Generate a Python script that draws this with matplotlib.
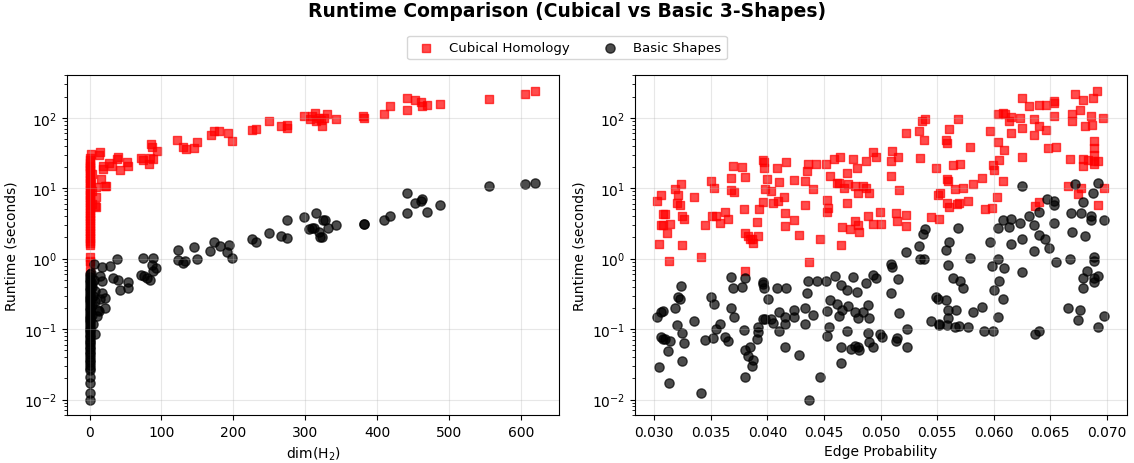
import matplotlib
matplotlib.use("Agg")
import matplotlib.pyplot as plt
import numpy as np

# ── left panel: runtime vs dim(H2) ─────────────────────────────────────────
cub_dim = [0]*39 + [2, 27.6, 16, 23, 9, 9, 9, 21.3, 7.4, 1, 3, 2, 4, 1, 3] + [
    14.4, 13.5, 19, 19, 30.6, 37.6, 40, 43, 51.5, 53.8, 71.5, 74.7, 83, 85.4, 86.3, 93.3,
    88.6, 84, 122, 129.5, 133.6, 145, 149, 168.4, 173, 180.5, 193, 198, 226.5, 231, 249.7,
    266, 275, 275, 298.4,
    307, 309, 313, 315, 318.5, 322, 323, 325.5, 330, 343, 381, 382, 410, 418.5, 441, 442,
    453, 461, 463, 469, 488, 555, 605, 620]
cub_t_dim = [25, 23, 21, 19.5, 18, 16.5, 15, 14, 13, 12, 11, 10, 9.3, 8.6, 8, 7.4, 6.8, 6.3,
             5.8, 5.3, 4.9, 4.5, 4.1, 3.8, 3.5, 3.2, 2.9, 2.7, 2.5, 2.3, 2.1, 1.95, 1.8, 1.65,
             1.55, 1.07, 0.92, 0.91, 0.67] + [
    30.7, 23, 13.5, 10.9, 10.5, 7.5, 5.4, 10.6, 5.6, 20, 16, 12, 9, 27, 6] + [
    33, 30, 21, 18.6, 20.8, 26, 28, 18.2, 23.7, 20.8, 27, 25, 22.4, 42, 38, 34,
    26.4, 26.7, 48, 39, 36, 37.4, 45.6, 57, 65, 65, 60, 47, 67, 70.5, 89,
    77, 78, 71, 107,
    96, 107, 116, 91, 100, 94, 77, 100, 113, 96, 107, 98, 115, 145, 188, 130,
    180, 165, 148, 151, 155, 186, 217, 237]

bas_dim = [0]*43 + [3, 5, 4, 6, 3, 7, 5, 2, 8, 4] + [
    6.5, 16.7, 29, 37.6, 33, 40, 42, 53, 54, 16.7, 14, 17.6, 21, 22, 14.4, 12, 13.5, 9.7, 7.4,
    73.8, 87.7, 86.3, 87.7, 93, 71.5, 75.6, 80, 84, 122.5, 122.5, 129.5, 132.7, 145.7, 149,
    168, 173, 181, 194, 190.7, 198.6, 225.5, 231, 249.7, 266, 275, 274, 298,
    305.6, 309, 311.6, 315, 318.5, 321, 322.7, 324.5, 327, 331, 343, 382, 382, 410, 418.5,
    441, 442, 453, 461, 463, 469, 488, 555, 605, 620]
bas_t_dim = [0.6, 0.55, 0.5, 0.46, 0.42, 0.39, 0.36, 0.33, 0.3, 0.28, 0.26, 0.24, 0.22, 0.2,
             0.185, 0.17, 0.155, 0.145, 0.135, 0.125, 0.115, 0.105, 0.097, 0.09, 0.083,
             0.077, 0.071, 0.066, 0.061, 0.056, 0.052, 0.048, 0.044, 0.04, 0.037, 0.034,
             0.031, 0.028, 0.026, 0.021, 0.017, 0.0126, 0.0098] + [
    0.45, 0.3, 0.22, 0.5, 0.16, 0.35, 0.12, 0.62, 0.25, 0.4] + [
    0.84, 0.75, 0.78, 1.0, 0.53, 0.50, 0.36, 0.47, 0.38, 0.49, 0.57, 0.33, 0.28, 0.20, 0.27,
    0.19, 0.18, 0.154, 0.085,
    1.01, 1.01, 0.81, 0.67, 0.73, 0.59, 0.57, 0.53, 0.50, 1.34, 0.97, 0.87, 0.94, 1.45, 1.0,
    1.30, 1.75, 1.53, 1.58, 1.23, 1.02, 1.9, 1.75, 2.3, 2.1, 1.95, 3.5, 3.9,
    2.6, 2.7, 2.7, 4.5, 2.4, 2.06, 2.06, 3.5, 3.6, 2.7, 3.0, 3.15, 3.15, 3.5, 4.05,
    8.6, 4.4, 6.25, 6.6, 6.95, 4.65, 5.7, 10.8, 11.6, 12.0]

# ── right panel: runtime vs edge probability ───────────────────────────────
cub_p = [
    0.03024, 0.03062, 0.03179, 0.03232, 0.03209, 0.03200, 0.03224, 0.03076, 0.03091, 0.03062,
    0.03076, 0.03135, 0.03115, 0.03038, 0.03247, 0.03259, 0.03247, 0.03347, 0.03447, 0.03497,
    0.03526, 0.03512, 0.03547, 0.03582, 0.03629, 0.03653, 0.03682, 0.03700, 0.03676, 0.03709,
    0.03776, 0.03806, 0.03794, 0.03800, 0.03826, 0.03847, 0.03865, 0.03871, 0.03921, 0.03909,
    0.03924, 0.03959, 0.03962, 0.03968, 0.03971, 0.03997, 0.03976, 0.04032, 0.04050, 0.04097,
    0.04088, 0.04103, 0.04147, 0.04165, 0.04153, 0.04156, 0.04235, 0.04235, 0.04276, 0.04335,
    0.04347, 0.04359, 0.04400, 0.04332, 0.04432, 0.04468, 0.04521, 0.04524, 0.04532, 0.04524,
    0.04553, 0.04591, 0.04612, 0.04629, 0.04644, 0.04656, 0.04647, 0.04676, 0.04706, 0.04715,
    0.04703, 0.04756, 0.04788, 0.04776, 0.04800, 0.04776, 0.04803, 0.04806, 0.04732, 0.04841,
    0.04868, 0.04874, 0.04894, 0.04888,
    0.03126, 0.03412, 0.03800, 0.04371,
    0.04932, 0.04962, 0.04991, 0.04932, 0.05006, 0.05103, 0.05094, 0.05156, 0.05091, 0.05162,
    0.05138, 0.05147, 0.05229, 0.05229, 0.05221, 0.05338, 0.05368, 0.05391, 0.05385, 0.05353,
    0.05447, 0.05515, 0.05491, 0.05509, 0.05524, 0.05585, 0.05597, 0.05579, 0.05591, 0.05609,
    0.05682, 0.05638, 0.05700, 0.05662, 0.05729, 0.05588, 0.05603, 0.05676, 0.05691, 0.05771,
    0.05788, 0.05818, 0.05897, 0.05921, 0.05985, 0.06029, 0.06079, 0.05991, 0.06000, 0.06044,
    0.06088, 0.06035, 0.05965, 0.06035, 0.06079, 0.06097, 0.06150, 0.06138, 0.06156, 0.06232,
    0.06253, 0.06253, 0.06253, 0.06312, 0.06403, 0.06465, 0.06529, 0.06535, 0.06353, 0.06397,
    0.06356, 0.06459, 0.06535, 0.06479, 0.06547, 0.06368, 0.06403, 0.06671, 0.06653, 0.06771,
    0.06747, 0.06691, 0.06691, 0.06765, 0.06715, 0.06785, 0.06874, 0.06915, 0.06862, 0.06868,
    0.06809, 0.06968, 0.06888, 0.06888, 0.06888, 0.06785, 0.06788, 0.06832, 0.06891, 0.06918,
    0.06891, 0.06971, 0.06918]
cub_t_p = [
    6.6, 7.9, 9.7, 11.4, 7.9, 6.1, 5.7, 4.3, 4.3, 3.0,
    3.0, 3.1, 2.3, 1.6, 4.1, 3.7, 1.58, 7.4, 3.0, 12.6,
    10.0, 4.1, 4.1, 3.2, 4.6, 3.7, 14.2, 20.8, 9.6, 8.9,
    20.3, 14.3, 5.0, 2.3, 2.1, 1.88, 1.88, 1.65, 2.1, 3.3,
    5.0, 6.4, 25, 23.7, 19.7, 13.7, 9.7, 9.2, 6.1, 6.5,
    19.5, 12.4, 7.5, 23.7, 4.5, 2.9, 12.9, 3.5, 2.2, 12.6,
    17.3, 22.4, 9.7, 5.8, 22.4, 1.92, 22.4, 6.9, 5.3, 4.6,
    14.7, 25.8, 12.0, 12.0, 27.9, 2.85, 1.55, 10.2, 16.3, 11.4,
    6.1, 26.4, 19.5, 10.8, 8.5, 3.4, 3.0, 2.4, 2.6, 10.8,
    24, 10.2, 8.7, 4.0,
    0.92, 1.07, 0.67, 0.91,
    33, 27.9, 4.6, 3.1, 3.1, 33.6, 24.5, 27.9, 14.7, 9.5,
    4.5, 3.4, 4.2, 2.9, 60.5, 66, 90.6, 95.7, 48, 26.7,
    3.9, 3.7, 19.1, 8.0, 8.7, 13.4, 12.7, 48, 43.7, 69,
    95.7, 21.2, 22.2, 9.7, 10.2, 6.1, 5.4, 5.9, 6.1, 6.7,
    38.7, 11.6, 14.2, 5.0, 5.3, 7.6, 12.7, 21.2, 18.0, 25.3,
    34.7, 46, 66, 113, 118, 113, 103, 90.6, 60.5, 100,
    72, 27.9, 188, 145, 153, 153, 171, 160, 95.7, 77,
    57, 67.5, 107, 37.8, 38.7, 5.6, 6.3, 26.4, 10.8, 10.0,
    8.2, 113, 88.7, 128, 217, 178, 190, 242, 107, 79.5,
    77, 100, 47, 37, 29.5, 26.4, 20.8, 25.3, 24.5, 24.5,
    22.4, 10.0, 5.7]

bas_p = [
    0.06253, 0.06715, 0.06918, 0.06876, 0.06788, 0.06471, 0.06535, 0.06535, 0.06403, 0.06312,
    0.06156, 0.06079, 0.06232, 0.06356, 0.06138, 0.06038, 0.06535, 0.06685, 0.06768, 0.06859,
    0.06859, 0.06971, 0.06403, 0.06456, 0.06485, 0.06253, 0.06156, 0.05965, 0.06691, 0.06809,
    0.05682, 0.05391, 0.05376, 0.05609, 0.05338,
    0.05221, 0.05353, 0.05382, 0.05582, 0.05594, 0.05094, 0.05103, 0.04932, 0.04962, 0.05156,
    0.05094, 0.05162, 0.04991, 0.05009, 0.04935, 0.05147, 0.05138, 0.05235, 0.05235, 0.05447,
    0.05491, 0.05509, 0.05579, 0.05594, 0.05594, 0.05515, 0.05515, 0.05588, 0.05668, 0.05638,
    0.05700, 0.05729, 0.05662, 0.05691, 0.05771, 0.05791, 0.05821, 0.05897, 0.05918, 0.05991,
    0.06035, 0.05988, 0.06038, 0.06088, 0.06044, 0.06000, 0.06079, 0.06253, 0.06359, 0.06550,
    0.06671, 0.06653, 0.06765, 0.06741, 0.06362, 0.06403, 0.06826, 0.06788, 0.06788, 0.06891,
    0.06891, 0.06891, 0.06891, 0.06921, 0.06971, 0.06918,
    0.03024, 0.03062, 0.03076, 0.03056, 0.03076, 0.03091, 0.03135, 0.03038, 0.03121, 0.03126,
    0.03179, 0.03232, 0.03209, 0.03224, 0.03200, 0.03247, 0.03259, 0.03247, 0.03350, 0.03412,
    0.03447, 0.03497, 0.03526, 0.03515, 0.03547, 0.03582, 0.03629, 0.03653, 0.03682, 0.03700,
    0.03676, 0.03709, 0.03776, 0.03806, 0.03797, 0.03800, 0.03826, 0.03850, 0.03871, 0.03865,
    0.03800, 0.03921, 0.03918, 0.03912, 0.03959, 0.03965, 0.03971, 0.03959, 0.03979, 0.04003,
    0.04032, 0.04050, 0.04088, 0.04103, 0.04100, 0.04165, 0.04156, 0.04153, 0.04156, 0.04235,
    0.04235, 0.04276, 0.04335, 0.04332, 0.04347, 0.04359, 0.04400, 0.04438, 0.04468, 0.04371,
    0.04521, 0.04524, 0.04541, 0.04524, 0.04553, 0.04594, 0.04612, 0.04632, 0.04647, 0.04656,
    0.04653, 0.04650, 0.04706, 0.04715, 0.04706, 0.04756, 0.04788, 0.04735, 0.04776, 0.04800,
    0.04806, 0.04776, 0.04800, 0.04841, 0.04871, 0.04885, 0.04894, 0.04894, 0.04885]
bas_t_p = [
    10.8, 11.6, 12.0, 8.5, 6.3, 7.0, 6.5, 5.7, 4.6, 4.1,
    3.7, 3.5, 3.2, 3.0, 2.8, 2.7, 3.2, 4.5, 4.4, 4.0,
    3.6, 3.5, 2.15, 1.88, 1.43, 1.92, 1.6, 1.73, 2.4, 2.1,
    2.7, 2.6, 2.26, 1.73, 1.51,
    1.23, 1.0, 1.0, 1.34, 0.82, 0.84, 0.77, 0.59, 0.53, 0.51,
    0.33, 0.169, 0.085, 0.078, 0.055, 0.076, 0.067, 0.10, 0.055, 0.131,
    0.29, 0.27, 0.26, 0.19, 0.142, 0.12, 0.114, 0.114, 0.188, 0.53,
    0.49, 0.38, 0.109, 0.112, 0.109, 1.02, 0.173, 0.203, 0.095, 0.093,
    0.147, 0.78, 1.0, 0.74, 0.48, 0.36, 0.27, 0.65, 1.30, 0.89,
    1.0, 0.20, 0.19, 0.136, 0.085, 0.095, 0.67, 0.54, 0.38, 1.04,
    0.94, 0.54, 0.47, 0.57, 0.155, 0.106,
    0.15, 0.173, 0.182, 0.078, 0.072, 0.072, 0.068, 0.029, 0.049, 0.017,
    0.20, 0.41, 0.29, 0.27, 0.114, 0.088, 0.063, 0.035, 0.131, 0.0126,
    0.069, 0.285, 0.23, 0.074, 0.10, 0.118, 0.078, 0.067, 0.55, 0.38,
    0.20, 0.151, 0.40, 0.53, 0.097, 0.051, 0.041, 0.055, 0.037, 0.030,
    0.021, 0.108, 0.090, 0.072, 0.46, 0.44, 0.39, 0.139, 0.139, 0.27,
    0.139, 0.122, 0.38, 0.173, 0.095, 0.38, 0.147, 0.118, 0.055, 0.186,
    0.147, 0.043, 0.20, 0.12, 0.33, 0.48, 0.158, 0.48, 0.021, 0.0099,
    0.48, 0.182, 0.106, 0.080, 0.26, 0.57, 0.23, 0.155, 0.42, 0.188,
    0.055, 0.033, 0.095, 0.21, 0.36, 0.55, 0.34, 0.053, 0.057, 0.055,
    0.051, 0.176, 0.142, 0.176, 0.45, 0.22, 0.142, 0.065, 0.088]

fig = plt.figure(figsize=(11.34, 4.64), dpi=100)
ax1 = fig.add_axes([0.059, 0.103, 0.434, 0.733])
ax2 = fig.add_axes([0.560, 0.103, 0.434, 0.733])

for ax, cx, cy, bx, by in [(ax1, cub_dim, cub_t_dim, bas_dim, bas_t_dim),
                           (ax2, cub_p, cub_t_p, bas_p, bas_t_p)]:
    ax.scatter(cx, cy, marker="s", s=38, color="red", alpha=0.7, label="Cubical Homology")
    ax.scatter(bx, by, marker="o", s=44, color="black", alpha=0.7, label="Basic Shapes")
    ax.set_yscale("log")
    ax.set_ylim(0.006, 404)
    ax.set_ylabel("Runtime (seconds)", fontsize=10)
    ax.grid(True, alpha=0.3)
    ax.tick_params(labelsize=10)

ax1.set_xlim(-31.5, 653)
ax1.set_xlabel("dim(H$_2$)", fontsize=10)
ax2.set_xlim(0.0283, 0.0718)
ax2.set_xlabel("Edge Probability", fontsize=10)

h, l = ax1.get_legend_handles_labels()
fig.legend(h, l, loc="upper center", bbox_to_anchor=(0.5, 0.935), ncol=2, fontsize=9.5)
fig.suptitle("Runtime Comparison (Cubical vs Basic 3-Shapes)", fontsize=13.5, fontweight="bold", y=0.995)

plt.savefig("out.png", dpi=100)
